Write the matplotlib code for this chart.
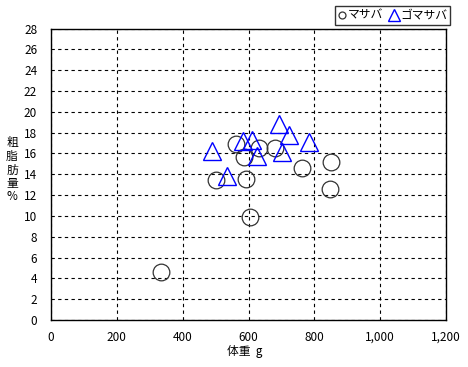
import matplotlib
matplotlib.use("Agg")
import matplotlib.pyplot as plt
from matplotlib.ticker import FixedLocator, FuncFormatter

plt.rcParams['font.family'] = ['Noto Sans CJK JP', 'DejaVu Sans']

# マサバ (circles)
masaba_x = [335, 604, 502, 591, 847, 852, 763, 587, 563, 631, 681]
masaba_y = [4.6, 9.9, 13.4, 13.5, 12.6, 15.2, 14.6, 15.7, 16.9, 16.5, 16.5]
# ゴマサバ (triangles)
goma_x = [488, 536, 692, 722, 783, 583, 612, 627, 701]
goma_y = [16.2, 13.8, 18.8, 17.8, 17.1, 17.2, 17.3, 15.8, 16.1]

x_ticks = [0, 200, 400, 600, 800, 1000, 1200]
y_ticks = list(range(0, 29, 2))

fig = plt.figure(figsize=(4.68, 3.67), dpi=100)
ax = fig.add_axes([51/468, 1-320/367, (446-51)/468, (320-28.5)/367])

ax.plot(masaba_x, masaba_y, linestyle='none', marker='o', markersize=12,
        markerfacecolor='none', markeredgecolor='#333333', markeredgewidth=0.9,
        label='マサバ', zorder=3)
ax.plot(goma_x, goma_y, linestyle='none', marker='^', markersize=12.5,
        markerfacecolor='none', markeredgecolor='#0000ff', markeredgewidth=1.0,
        label='ゴマサバ', zorder=4)

ax.set_xlim(0, 1200)
ax.set_ylim(0, 28)
ax.xaxis.set_major_locator(FixedLocator(x_ticks))
ax.yaxis.set_major_locator(FixedLocator(y_ticks))
ax.xaxis.set_major_formatter(FuncFormatter(lambda v, p: f"{int(v):,}"))
ax.yaxis.set_major_formatter(FuncFormatter(lambda v, p: f"{int(v)}"))
ax.grid(True, color='black', linestyle=(0, (3, 3)), linewidth=0.8)
ax.set_axisbelow(True)
ax.tick_params(axis='both', length=0, labelsize=8.5, colors='black')
ax.tick_params(axis='x', pad=8)
ax.tick_params(axis='y', pad=10)
for s in ax.spines.values():
    s.set_color('black')
    s.set_linewidth(1.0)

fig.text(245/468, 1-352/367, '体重  g', ha='center', va='center', fontsize=8.5)
fig.text(12/468, 1-170/367, '粗\n脂\n肪\n量\n%', ha='center', va='center',
         fontsize=8.5, linespacing=1.05)

leg = ax.legend(loc='upper right', bbox_to_anchor=(450/468, 1-6/367),
                bbox_transform=fig.transFigure, ncol=2, frameon=True,
                fancybox=False, edgecolor='black', fontsize=8.5,
                handlelength=0.7, handletextpad=0.2,
                columnspacing=0.5, borderpad=0.25, borderaxespad=0)
leg.get_frame().set_linewidth(1.0)
hs = leg.legend_handles
hs[0].set_markersize(5)
hs[1].set_markersize(8)

fig.savefig('out.png', dpi=100)
